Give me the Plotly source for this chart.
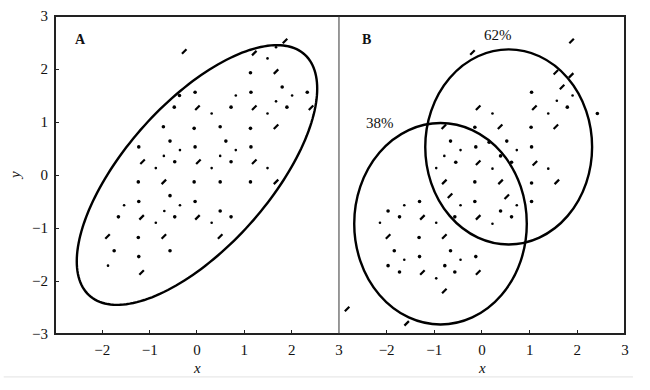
import numpy as np
import plotly.graph_objects as go

# ---------------- data ----------------
# Panel A points: x, y, kind (d = dash, m = dot, s = small dot)
a_x = [-0.27, -0.04, -0.37, -0.48, 0.01, 0.31, -0.71, -0.06, -0.57, -1.23, -0.04, -0.36, -0.70, -1.15, -0.47, 0.03,
       1.86, 1.21, 1.67, 1.49, 1.13, 1.67, 1.80, 0.82, 1.14, 2.01, 2.33, 1.67, 0.72, 1.21, 1.90, 2.41, 1.49,
       0.49, 1.13, 1.67, 0.61, 0.82, 1.14, 0.49, 0.72, 1.21, -0.87, 0.31, -1.24, -0.70, -0.06, -0.57, -1.54,
       -1.23, -0.36, -0.04, -0.69, -1.66, -1.17, -0.47, 0.01, -0.87, 0.31, -1.89, -1.24, -0.70, -1.75, -0.57,
       -1.23, -1.88, -1.17, 1.49, 0.49, 1.13, 1.67, 0.49, 0.72, 0.49]
a_y = [2.33, 1.56, 1.50, 1.28, 1.27, 1.16, 0.91, 0.88, 0.64, 0.53, 0.53, 0.47, 0.36, 0.25, 0.25, 0.25,
       2.53, 2.30, 2.41, 2.20, 1.93, 1.95, 1.66, 1.50, 1.56, 1.50, 1.56, 1.39, 1.28, 1.27, 1.28, 1.27, 1.16,
       0.91, 0.88, 0.91, 0.64, 0.47, 0.53, 0.36, 0.25, 0.25, 0.13, 0.13, -0.13, -0.13, -0.13, -0.39, -0.57,
       -0.50, -0.57, -0.50, -0.68, -0.79, -0.80, -0.79, -0.80, -0.90, -0.90, -1.16, -1.18, -1.16, -1.43, -1.43,
       -1.54, -1.71, -1.84, 0.13, -0.13, -0.13, -0.13, -0.68, -0.79, -1.16]
a_k = ["d", "m", "m", "m", "d", "s", "m", "m", "m", "m", "m", "s", "s", "d", "m", "d",
       "d", "d", "s", "s", "m", "d", "m", "s", "m", "s", "m", "s", "m", "d", "m", "d", "s",
       "m", "m", "d", "m", "s", "m", "s", "m", "d", "s", "s", "m", "d", "m", "m", "s",
       "m", "s", "m", "s", "m", "d", "m", "d", "s", "s", "d", "m", "d", "m", "m",
       "m", "s", "d", "s", "m", "m", "d", "m", "m", "d"]

# Panel B points
b_x = [-0.79, -0.55, -0.08, -0.96, -0.79, -0.15, -0.67, -1.31, -0.15, -1.63, -0.45, -1.97, -1.73, -1.25,
       -0.57, -0.08, -2.14, -0.96, -1.97, -1.32, -0.79, -1.84, -0.66, -1.63, -1.31, -0.45, -1.97, -0.13,
       -1.73, -1.25, -0.78, -0.57, -0.08, -0.96, -0.79, -2.83, -1.58,
       1.88, -0.20, 1.55, 1.87, 1.68, 1.04, 1.90, 1.57, -0.08, 1.10, 1.79, 0.22, 1.39, 2.42, -0.80, -0.15,
       0.38, 1.03, 1.55, -0.66, 0.15, 0.52, -0.45, -0.13, 0.73, 1.04, 0.39, 0.62, 1.11, 0.22, 1.39, 1.04,
       1.57, 0.39, 0.52, 1.04, 0.73, 0.39, 0.62, 0.22]
b_y = [0.36, 0.24, 0.23, 0.13, -0.13, -0.13, -0.39, -0.50, -0.50, -0.57, -0.57, -0.68, -0.79, -0.80,
       -0.79, -0.80, -0.90, -0.90, -1.16, -1.18, -1.16, -1.43, -1.43, -1.60, -1.54, -1.60, -1.71, -1.54,
       -1.83, -1.84, -1.71, -1.83, -1.84, -1.95, -2.19, -2.53, -2.80,
       2.53, 2.31, 1.94, 1.88, 1.66, 1.56, 1.50, 1.40, 1.27, 1.27, 1.28, 1.16, 1.16, 1.16, 0.91, 0.90,
       0.91, 0.90, 0.91, 0.64, 0.62, 0.64, 0.47, 0.53, 0.47, 0.53, 0.36, 0.24, 0.22, 0.12, 0.12, -0.15,
       -0.13, -0.13, -0.41, -0.50, -0.57, -0.68, -0.79, -0.92]
b_k = ["s", "m", "d", "s", "d", "m", "d", "m", "m", "s", "s", "m", "m", "d",
       "m", "d", "s", "s", "d", "m", "d", "m", "m", "s", "m", "s", "m", "m",
       "m", "d", "m", "m", "d", "s", "d", "d", "d",
       "d", "d", "d", "d", "d", "m", "s", "s", "d", "d", "m", "s", "s", "m", "d", "m",
       "d", "m", "d", "m", "m", "m", "s", "m", "s", "m", "m", "m", "d", "s", "s", "m",
       "d", "d", "d", "m", "s", "m", "m", "s"]

# Ellipse A (centre, x/y semi-extents, phase cos)
ellA_center = [0.0, 0.0]
ellA_sx, ellA_sy, ellA_cosphi = 2.54, 2.45, 0.665
# Ellipses B: [x0, x1, y0, y1]
ellB1 = [-2.68, 0.94, -2.82, 0.98]
ellB2 = [-1.19, 2.31, -1.31, 2.37]

xticks = [-2, -1, 0, 1, 2, 3]
yticks = [-3, -2, -1, 0, 1, 2, 3]

# ---------------- figure ----------------
fig = go.Figure()
FONT = "Liberation Serif, Times New Roman, serif"

styles = {
    "d": dict(symbol="line-ne", size=4.5, color="black", line=dict(width=2.2, color="black")),
    "m": dict(symbol="circle", size=3.6, color="black", line=dict(width=0)),
    "s": dict(symbol="circle", size=2.6, color="black", line=dict(width=0)),
}

for xs, ys, ks, xa, ya in [(a_x, a_y, a_k, "x", "y"), (b_x, b_y, b_k, "x2", "y2")]:
    for kind in ["d", "m", "s"]:
        px = [x for x, k in zip(xs, ks) if k == kind]
        py = [y for y, k in zip(ys, ks) if k == kind]
        fig.add_trace(go.Scatter(x=px, y=py, mode="markers", marker=styles[kind],
                                 xaxis=xa, yaxis=ya, showlegend=False, hoverinfo="skip"))

# ellipse A path
phi = np.arccos(ellA_cosphi)
t = np.linspace(0, 2 * np.pi, 181)
ex = ellA_center[0] + ellA_sx * np.cos(t)
ey = ellA_center[1] + ellA_sy * np.cos(t - phi)
path = "M " + " L ".join(f"{x:.4f},{y:.4f}" for x, y in zip(ex, ey)) + " Z"

shapes = [
    dict(type="path", path=path, xref="x", yref="y", line=dict(color="black", width=2.4)),
    dict(type="circle", xref="x2", yref="y2", x0=ellB1[0], x1=ellB1[1], y0=ellB1[2], y1=ellB1[3],
         line=dict(color="black", width=2.4)),
    dict(type="circle", xref="x2", yref="y2", x0=ellB2[0], x1=ellB2[1], y0=ellB2[2], y1=ellB2[3],
         line=dict(color="black", width=2.4)),
    dict(type="rect", xref="paper", yref="paper", x0=0, x1=1, y0=0, y1=1,
         line=dict(color="#222", width=2)),
    dict(type="line", xref="paper", yref="paper", x0=0.4982, x1=0.4982, y0=0, y1=1,
         line=dict(color="#333", width=1)),
    dict(type="line", xref="paper", yref="paper", x0=-0.09, x1=1.014, y0=-0.135, y1=-0.135,
         line=dict(color="#e2e2e2", width=1)),
]

tickfont = dict(family=FONT, size=15, color="#111")
axis_common = dict(range=[-3, 3], showgrid=False, zeroline=False, showline=False,
                   ticks="inside", ticklen=4, tickwidth=1, tickcolor="#222", tickfont=tickfont)

annotations = [
    dict(text="<b>A</b>", x=-2.47, y=2.56, xref="x", yref="y", showarrow=False,
         font=dict(family=FONT, size=14, color="#111")),
    dict(text="<b>B</b>", x=-2.43, y=2.56, xref="x2", yref="y2", showarrow=False,
         font=dict(family=FONT, size=14, color="#111")),
    dict(text="38%", x=-2.14, y=0.98, xref="x2", yref="y2", showarrow=False,
         font=dict(family=FONT, size=15, color="#111")),
    dict(text="62%", x=0.34, y=2.65, xref="x2", yref="y2", showarrow=False,
         font=dict(family=FONT, size=15, color="#111")),
    dict(text="<i>y</i>", x=-0.07, y=0.497, xref="paper", yref="paper", showarrow=False,
         xanchor="center", yanchor="middle",
         textangle=-90, font=dict(family=FONT, size=15, color="#111")),
    dict(text="<i>x</i>", x=0, y=-0.106, xref="x", yref="paper", showarrow=False,
         xanchor="center", yanchor="middle", font=dict(family=FONT, size=15, color="#111")),
    dict(text="<i>x</i>", x=0, y=-0.106, xref="x2", yref="paper", showarrow=False,
         xanchor="center", yanchor="middle", font=dict(family=FONT, size=15, color="#111")),
]

fig.update_layout(
    width=650, height=390,
    margin=dict(l=55, r=25, t=8, b=56),
    paper_bgcolor="white", plot_bgcolor="white",
    xaxis=dict(domain=[0, 0.4982], anchor="y", tickvals=xticks, ticklabelstandoff=5, **axis_common),
    xaxis2=dict(domain=[0.4982, 1], anchor="y2", tickvals=xticks, ticklabelstandoff=5, **axis_common),
    yaxis=dict(domain=[0, 1], anchor="x", tickvals=yticks, ticklabelstandoff=6, **axis_common),
    yaxis2=dict(domain=[0, 1], anchor="x2", tickvals=yticks, showticklabels=False,
                **{k: v for k, v in axis_common.items() if k not in ("ticks",)}, ticks=""),
    shapes=shapes,
    annotations=annotations,
    showlegend=False,
)

# remove the default 8px page margin so the figure sits at the window's top-left corner
fig.write_html("out.html",
               config={"displayModeBar": False, "staticPlot": True},
               post_script="document.body.style.margin='0px';document.body.style.overflow='hidden';")
